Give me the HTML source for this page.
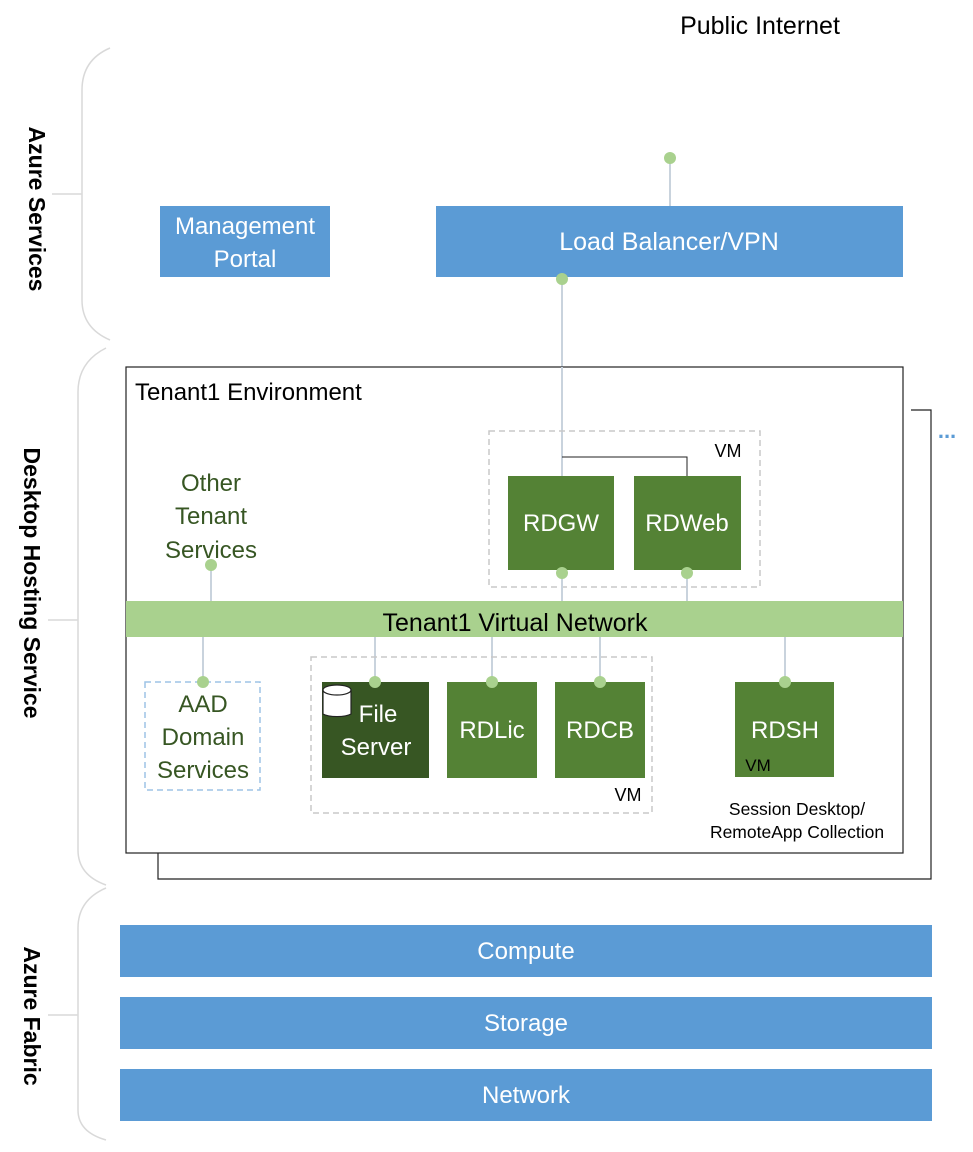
<!DOCTYPE html>
<html><head><meta charset="utf-8"><style>
body{margin:0;background:#fff}
svg{display:block;font-family:"Liberation Sans",sans-serif}
</style></head><body>
<svg width="973" height="1152" viewBox="0 0 973 1152" xmlns="http://www.w3.org/2000/svg">
<g fill="none" stroke="#d9d9d9" stroke-width="1.5">
<path d="M110 48 Q82 60 82 90 L82 300 Q82 328 110 340"/>
<line x1="52" y1="194" x2="82" y2="194"/>
<path d="M106 348 Q78 362 78 392 L78 850 Q78 875 106 885"/>
<line x1="48" y1="620" x2="78" y2="620"/>
<path d="M106 888 Q78 900 78 928 L78 1110 Q78 1132 106 1140"/>
<line x1="48" y1="1015" x2="78" y2="1015"/>
</g>
<g font-weight="bold" font-size="23" fill="#000">
<text transform="translate(29,209) rotate(90)" text-anchor="middle">Azure Services</text>
<text transform="translate(24,583) rotate(90)" text-anchor="middle">Desktop Hosting Service</text>
<text transform="translate(24,1016) rotate(90)" text-anchor="middle">Azure Fabric</text>
</g>
<text x="760" y="34" font-size="25" text-anchor="middle" fill="#000">Public Internet</text>
<line x1="670" y1="158" x2="670" y2="206" stroke="#c9d3dd" stroke-width="2"/>
<circle cx="670" cy="158" r="6" fill="#a9d18e"/>
<line x1="562" y1="277" x2="562" y2="476" stroke="#c9d3dd" stroke-width="2"/>
<rect x="160" y="206" width="170" height="71" fill="#5b9bd5"/>
<text x="245" y="234" font-size="24" fill="#fff" text-anchor="middle">Management</text>
<text x="245" y="267" font-size="24" fill="#fff" text-anchor="middle">Portal</text>
<rect x="436" y="206" width="467" height="71" fill="#5b9bd5"/>
<text x="669" y="250" font-size="25" fill="#fff" text-anchor="middle">Load Balancer/VPN</text>
<circle cx="562" cy="279" r="6" fill="#a9d18e"/>
<path d="M158 853 L158 879 L931 879 L931 410 L911 410" fill="none" stroke="#222" stroke-width="1.2"/>
<text x="947" y="438" font-size="22" fill="#5b9bd5" text-anchor="middle" font-weight="bold">...</text>
<rect x="126" y="367" width="777" height="486" fill="#fff" stroke="#222" stroke-width="1.2"/>
<line x1="562" y1="367" x2="562" y2="476" stroke="#c9d3dd" stroke-width="2"/>
<text x="135" y="400" font-size="24" fill="#000">Tenant1 Environment</text>
<rect x="489" y="431" width="271" height="156" fill="none" stroke="#c8c8c8" stroke-dasharray="6,4" stroke-width="1.5"/>
<text x="728" y="457" font-size="18" fill="#000" text-anchor="middle">VM</text>
<path d="M562 457 L687 457 L687 476" fill="none" stroke="#222" stroke-width="1"/>
<rect x="508" y="476" width="106" height="94" fill="#548235"/>
<text x="561" y="531" font-size="24" fill="#fff" text-anchor="middle">RDGW</text>
<rect x="634" y="476" width="107" height="94" fill="#548235"/>
<text x="687" y="531" font-size="24" fill="#fff" text-anchor="middle">RDWeb</text>
<g stroke="#c9d3dd" stroke-width="2">
<line x1="562" y1="572" x2="562" y2="601"/>
<line x1="687" y1="572" x2="687" y2="601"/>
<line x1="211" y1="565" x2="211" y2="601"/>
<line x1="203" y1="637" x2="203" y2="682"/>
<line x1="375" y1="637" x2="375" y2="682"/>
<line x1="492" y1="637" x2="492" y2="682"/>
<line x1="600" y1="637" x2="600" y2="682"/>
<line x1="785" y1="637" x2="785" y2="682"/>
</g>
<g fill="#a9d18e">
<circle cx="562" cy="573" r="6"/><circle cx="687" cy="573" r="6"/>
<circle cx="211" cy="565" r="6"/>
</g>
<text font-size="24" fill="#375623" text-anchor="middle"><tspan x="211" y="491">Other</tspan><tspan x="211" y="524">Tenant</tspan><tspan x="211" y="558">Services</tspan></text>
<rect x="126" y="601" width="777" height="36" fill="#a9d18e"/>
<text x="515" y="631" font-size="25" fill="#000" text-anchor="middle">Tenant1 Virtual Network</text>
<rect x="145" y="682" width="115" height="108" fill="none" stroke="#9dc3e6" stroke-dasharray="6,4" stroke-width="1.5"/>
<text font-size="24" fill="#375623" text-anchor="middle"><tspan x="203" y="712">AAD</tspan><tspan x="203" y="745">Domain</tspan><tspan x="203" y="778">Services</tspan></text>
<rect x="311" y="657" width="341" height="156" fill="none" stroke="#c8c8c8" stroke-dasharray="6,4" stroke-width="1.5"/>
<text x="628" y="801" font-size="18" fill="#000" text-anchor="middle">VM</text>
<rect x="322" y="682" width="107" height="96" fill="#375623"/>
<path d="M323 690 L323 714 A16 5 0 0 0 351 714 L351 690" fill="#fff" stroke="#222" stroke-width="1.2"/>
<ellipse cx="337" cy="690" rx="14" ry="5" fill="#fff" stroke="#222" stroke-width="1.2"/>
<text x="378" y="722" font-size="24" fill="#fff" text-anchor="middle">File</text>
<text x="376" y="755" font-size="24" fill="#fff" text-anchor="middle">Server</text>
<rect x="447" y="682" width="90" height="96" fill="#548235"/>
<text x="492" y="738" font-size="24" fill="#fff" text-anchor="middle">RDLic</text>
<rect x="555" y="682" width="90" height="96" fill="#548235"/>
<text x="600" y="738" font-size="24" fill="#fff" text-anchor="middle">RDCB</text>
<rect x="735" y="682" width="99" height="95" fill="#548235"/>
<text x="785" y="738" font-size="24" fill="#fff" text-anchor="middle">RDSH</text>
<text x="758" y="771" font-size="17" fill="#000" text-anchor="middle">VM</text>
<g fill="#a9d18e">
<circle cx="203" cy="682" r="6"/><circle cx="375" cy="682" r="6"/><circle cx="492" cy="682" r="6"/><circle cx="600" cy="682" r="6"/><circle cx="785" cy="682" r="6"/>
</g>
<text x="797" y="815" font-size="17.5" fill="#000" text-anchor="middle">Session Desktop/</text>
<text x="797" y="838" font-size="17.5" fill="#000" text-anchor="middle">RemoteApp Collection</text>
<rect x="120" y="925" width="812" height="52" fill="#5b9bd5"/>
<text x="526" y="959" font-size="24" fill="#fff" text-anchor="middle">Compute</text>
<rect x="120" y="997" width="812" height="52" fill="#5b9bd5"/>
<text x="526" y="1031" font-size="24" fill="#fff" text-anchor="middle">Storage</text>
<rect x="120" y="1069" width="812" height="52" fill="#5b9bd5"/>
<text x="526" y="1103" font-size="24" fill="#fff" text-anchor="middle">Network</text>
</svg>
</body></html>
